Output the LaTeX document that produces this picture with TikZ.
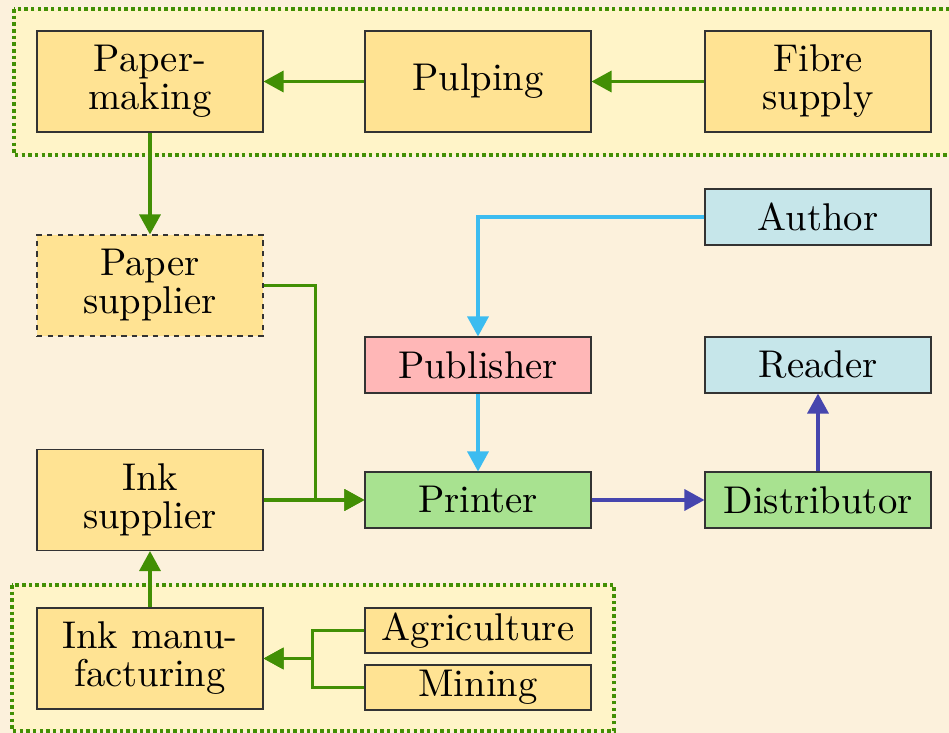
\documentclass[tikz,border=0pt]{standalone}
\usepackage{fontspec}
\setmainfont{lmroman10-regular}[Extension=.otf]
\usepackage{xcolor}
\usepackage{tikz}
\usetikzlibrary{arrows.meta,calc}
\definecolor{parchment}{HTML}{FCF1DC}
\definecolor{groupfill}{HTML}{FFF4C8}
\definecolor{supplyfill}{HTML}{FFE393}
\definecolor{peoplefill}{HTML}{C6E6EA}
\definecolor{pubfill}{HTML}{FFB7B7}
\definecolor{tradefill}{HTML}{A8E290}
\definecolor{supplyline}{HTML}{428F04}
\definecolor{authorline}{HTML}{3CBCF0}
\definecolor{tradeline}{HTML}{4646AE}

\begin{document}
\begin{tikzpicture}[every node/.style={font=\fontsize{22}{21.6}\selectfont}, box/.style={draw=black!80, line width=0.6pt, align=center, inner sep=0pt, minimum width=4.52cm}, tall/.style={box, minimum height=2.02cm}, flat/.style={box, minimum height=1.12cm}, thin/.style={box, minimum height=0.9cm}, group/.style={draw=supplyline, fill=groupfill, line width=2pt, dash pattern=on 2pt off 1.8pt}, garrow/.style={draw=supplyline, line width=1.9pt, -{Triangle[length=0.4cm, width=0.42cm]}}, carrow/.style={garrow, draw=authorline}, barrow/.style={garrow, draw=tradeline}]
\useasboundingbox[fill=parchment] (0,0) rectangle (18.98,-14.66);
% the two dotted supply groups
\path[group] (0.28,-0.18) rectangle (19.2,-3.10);
\path[group] (0.24,-11.70) rectangle (12.28,-14.62);
\node[tall, fill=supplyfill] (pm) at (3.00,-1.63) {Paper-\\making};
\node[tall, fill=supplyfill] (pulp) at (9.56,-1.63) {Pulping};
\node[tall, fill=supplyfill] (fibre) at (16.36,-1.63) {Fibre\\supply};
\node[tall, fill=supplyfill, dashed] (psup) at (3.00,-5.71) {Paper\\supplier};
\node[flat, fill=peoplefill] (author) at (16.36,-4.34) {Author};
\node[flat, fill=pubfill] (pub) at (9.56,-7.30) {Publisher};
\node[flat, fill=peoplefill] (reader) at (16.36,-7.30) {Reader};
\node[tall, fill=supplyfill] (isup) at (3.00,-10.00) {Ink\\supplier};
\node[flat, fill=tradefill] (printer) at (9.56,-10.00) {Printer};
\node[flat, fill=tradefill] (dist) at (16.36,-10.00) {Distributor};
\node[tall, fill=supplyfill] (imanu) at (3.00,-13.17) {Ink manu-\\facturing};
\node[thin, fill=supplyfill] (agri) at (9.56,-12.61) {Agriculture};
\node[thin, fill=supplyfill] (mining) at (9.56,-13.75) {Mining};
% paper chain
\draw[garrow] (fibre.west) -- (pulp.east);
\draw[garrow] (pulp.west) -- (pm.east);
\draw[garrow] (pm.south) -- (psup.north);
\draw[garrow] (psup.east) -- ++(1.04,0) |- (printer.west);
\draw[garrow] (isup.east) -- (printer.west);
% ink chain
\draw[garrow] (imanu.north) -- (isup.south);
\draw[garrow] (agri.west) -- ++(-1.04,0) |- (imanu.east);
\draw[garrow] (mining.west) -- ++(-1.04,0) |- (imanu.east);
% book trade
\draw[carrow] (author.west) -| (pub.north);
\draw[carrow] (pub.south) -- (printer.north);
\draw[barrow] (printer.east) -- (dist.west);
\draw[barrow] (dist.north) -- (reader.south);
\end{tikzpicture}
\end{document}
